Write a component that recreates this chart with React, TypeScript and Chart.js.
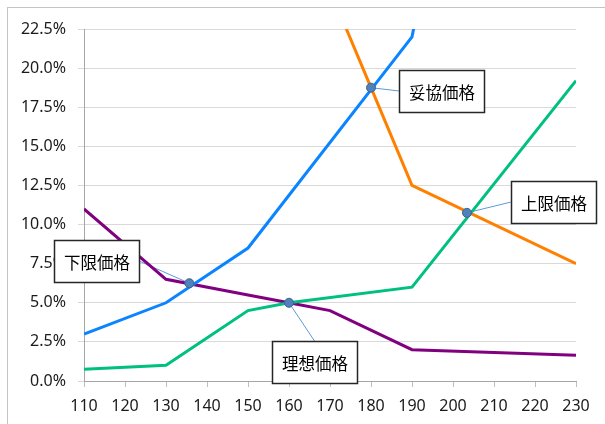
import React, { useEffect, useRef } from 'react';
import { Chart, registerables } from 'chart.js';

Chart.register(...registerables);

// price points (x) and rates (%) for each curve
const cheapX = [110, 130, 150, 160, 170, 190, 230];
const cheapY = [11.0, 6.5, 5.5, 5.0, 4.5, 2.0, 1.65];
const tooCheapX = [110, 130, 150, 190, 200];
const tooCheapY = [3.0, 5.0, 8.5, 22.0, 35.0];
const tooExpensiveX = [170, 180, 190, 230];
const tooExpensiveY = [25.0, 18.75, 12.5, 7.5];
const expensiveX = [110, 130, 150, 160, 190, 230];
const expensiveY = [0.75, 1.0, 4.5, 5.0, 6.0, 19.2];

// crossing points
const pointNames = ['下限価格', '理想価格', '妥協価格', '上限価格'];
const pointX = [135.7, 160, 180, 203.4];
const pointY = [6.25, 5.0, 18.75, 10.75];

const yTicks = [0, 2.5, 5, 7.5, 10, 12.5, 15, 17.5, 20, 22.5];

// label boxes, left/top corner in axis units, and which side the leader attaches to
const boxes = [
  { x: 102.7, y: 9.01, side: 'right' },
  { x: 155.85, y: 2.56, side: 'top' },
  { x: 186.8, y: 19.88, side: 'left' },
  { x: 214.1, y: 12.78, side: 'left' },
];
const BOX_W = 85;
const BOX_H = 42;

const pairs = (xs: number[], ys: number[]) => xs.map((x, i) => ({ x, y: ys[i] }));

const calloutPlugin = {
  id: 'callouts',
  beforeDatasetsDraw(chart: any) {
    const { ctx, scales } = chart;
    ctx.save();
    ctx.strokeStyle = '#5b9bd5';
    ctx.lineWidth = 1;
    boxes.forEach((b, i) => {
      const px = scales.x.getPixelForValue(pointX[i]);
      const py = scales.y.getPixelForValue(pointY[i]);
      const bx = scales.x.getPixelForValue(b.x);
      const by = scales.y.getPixelForValue(b.y);
      let ex = bx, ey = by + BOX_H / 2;
      if (b.side === 'right') ex = bx + BOX_W;
      if (b.side === 'top') { ex = bx + BOX_W / 2; ey = by; }
      ctx.beginPath();
      ctx.moveTo(px, py);
      ctx.lineTo(ex, ey);
      ctx.stroke();
    });
    ctx.restore();
  },
  afterDatasetsDraw(chart: any) {
    const { ctx, scales } = chart;
    ctx.save();
    boxes.forEach((b, i) => {
      const bx = Math.round(scales.x.getPixelForValue(b.x)) + 0.5;
      const by = Math.round(scales.y.getPixelForValue(b.y)) + 0.5;
      ctx.fillStyle = '#ffffff';
      ctx.fillRect(bx, by, BOX_W, BOX_H);
      ctx.strokeStyle = '#262626';
      ctx.lineWidth = 1.5;
      ctx.strokeRect(bx, by, BOX_W, BOX_H);
      ctx.fillStyle = '#000000';
      ctx.font = '16.5px "Noto Sans CJK JP"';
      ctx.textAlign = 'center';
      ctx.textBaseline = 'middle';
      ctx.fillText(pointNames[i], bx + BOX_W / 2, by + BOX_H / 2 + 1);
    });
    ctx.restore();
  },
};

function PriceChart() {
  const canvasRef = useRef<HTMLCanvasElement>(null);
  useEffect(() => {
    if (!canvasRef.current) return;
    const line = (data: any, color: string) => ({
      data,
      borderColor: color,
      backgroundColor: color,
      borderWidth: 3,
      pointRadius: 0,
      tension: 0,
      fill: false,
    });
    const chart = new Chart(canvasRef.current, {
      type: 'line',
      data: {
        datasets: [
          {
            type: 'scatter',
            data: pairs(pointX, pointY),
            backgroundColor: '#4f81bd',
            borderColor: '#3a6492',
            borderWidth: 1,
            pointRadius: 4.5,
            order: -1,
          } as any,
          line(pairs(expensiveX, expensiveY), '#00c07f'),
          line(pairs(tooExpensiveX, tooExpensiveY), '#ff8000'),
          line(pairs(tooCheapX, tooCheapY), '#0a84ff'),
          line(pairs(cheapX, cheapY), '#800080'),
        ],
      },
      options: {
        animation: false,
        responsive: false,
        events: [],
        layout: { padding: { top: 29, right: 29, left: 0, bottom: 0 } },
        plugins: { legend: { display: false }, tooltip: { enabled: false } },
        scales: {
          x: {
            type: 'linear',
            min: 110,
            max: 230,
            afterFit: (s: any) => { s.height = 43; },
            ticks: {
              stepSize: 10,
              padding: 10,
              color: '#1a1a1a',
              font: { family: 'Noto Sans', size: 16 },
            },
            grid: { drawOnChartArea: false, tickLength: 6, tickColor: '#bfbfbf' },
            border: { color: '#a6a6a6', width: 1 },
          },
          y: {
            min: 0,
            max: 22.5,
            afterFit: (s: any) => { s.width = 84; },
            afterBuildTicks: (s: any) => { s.ticks = yTicks.map((v) => ({ value: v })); },
            ticks: {
              padding: 12,
              color: '#1a1a1a',
              font: { family: 'Noto Sans', size: 16 },
              callback: (v: any) => Number(v).toFixed(1) + '%',
            },
            grid: { color: '#d9d9d9', tickLength: 6, tickColor: '#d9d9d9' },
            border: { color: '#a6a6a6', width: 1 },
          },
        },
      },
      plugins: [calloutPlugin],
    });
    return () => chart.destroy();
  }, []);
  return <canvas ref={canvasRef} width={605} height={424} style={{ display: 'block' }} />;
}

export default function App() {
  return (
    <div style={{ position: 'fixed', left: 0, top: 0, width: 605, height: 424, overflow: 'hidden', background: '#fff' }}>
      <div style={{ position: 'absolute', left: 7, top: 7, width: 700, height: 500, border: '1px solid #c4c4c4' }} />
      <div style={{ position: 'absolute', left: 0, top: 0 }}>
        <PriceChart />
      </div>
    </div>
  );
}
